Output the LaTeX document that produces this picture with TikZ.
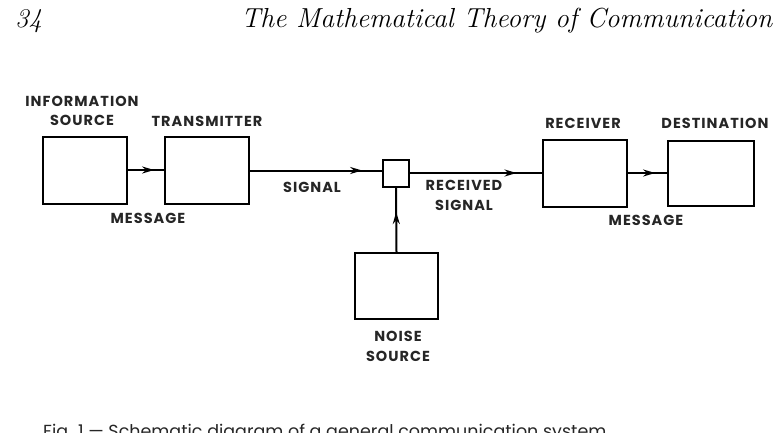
\documentclass[tikz,border=0pt]{standalone}
\usepackage{fontspec}
\usepackage{tikz}
\usetikzlibrary{positioning,calc,arrows.meta,decorations.markings}
\newfontfamily\labelfont{Poppins}[LetterSpace=7]
\newfontfamily\capfont{Poppins}

\begin{document}
\begin{tikzpicture}[x=1pt,y=-1pt,
  box/.style={draw,line width=2pt,minimum width=84pt,minimum height=67pt,inner sep=0pt},
  lbl/.style={font=\labelfont\bfseries\fontsize{14.5}{19.5}\selectfont,align=center,inner sep=0pt,text=black!85},
  link/.style={line width=2pt,postaction={decorate},
    decoration={markings,mark=at position #1 with {\arrow{Stealth[length=12pt,width=7pt]}}}}]
  \useasboundingbox (0,0) rectangle (774,432);
  % page head
  \node[anchor=base west,font=\itshape\fontsize{27}{27}\selectfont,inner sep=0pt] (page) at (15,27) {34};
  \node[anchor=base west,font=\itshape\fontsize{27.5}{27}\selectfont,inner sep=0pt] (head) at (241,27) {The Mathematical Theory of Communication};
  % blocks of the system
  \node[box] (isrc) at (84.5,170) {};
  \node[box] (trans) at (206.5,170.5) {};
  \node[draw,line width=2pt,minimum width=26pt,minimum height=27pt,inner sep=0pt] (mix) at (396,173) {};
  \node[box] (recv) at (584.5,173) {};
  \node[box,minimum width=86pt,minimum height=65pt] (dest) at (711,173.5) {};
  \node[box,minimum width=83pt,minimum height=66pt] (noise) at (396.5,286) {};
  % connectors
  \draw[link=0.74] (isrc.east) -- (isrc.east -| trans.west);
  \draw[link=0.85] (trans.east) -- (trans.east -| mix.west);
  \draw[link=0.81] (mix.east) -- (mix.east -| recv.west);
  \draw[link=0.70] (recv.east) -- (recv.east -| dest.west);
  \draw[link=0.62] (noise.north) -- (mix.south);
  % labels
  \node[lbl] (isrclbl) at (82,111) {INFORMATION\\SOURCE};
  \node[lbl] (translbl) at (207,121) {TRANSMITTER};
  \node[lbl] (siglbl) at (312,187) {SIGNAL};
  \node[lbl] (msglbl) at (148,218) {MESSAGE};
  \node[lbl] (rsiglbl) at (464,195.5) {RECEIVED\\SIGNAL};
  \node[lbl] (recvlbl) at (583,123) {RECEIVER};
  \node[lbl] (destlbl) at (715,123) {DESTINATION};
  \node[lbl] (msglbl2) at (646,220) {MESSAGE};
  \node[lbl] (noiselbl) at (398,346.5) {NOISE\\SOURCE};
  % caption, cut by the page edge
  \node[anchor=base west,font=\capfont\fontsize{17.5}{17.5}\selectfont,inner sep=0pt,text=black!85] (caption) at (43,437) {Fig. 1 — Schematic diagram of a general communication system.};
\end{tikzpicture}
\end{document}
